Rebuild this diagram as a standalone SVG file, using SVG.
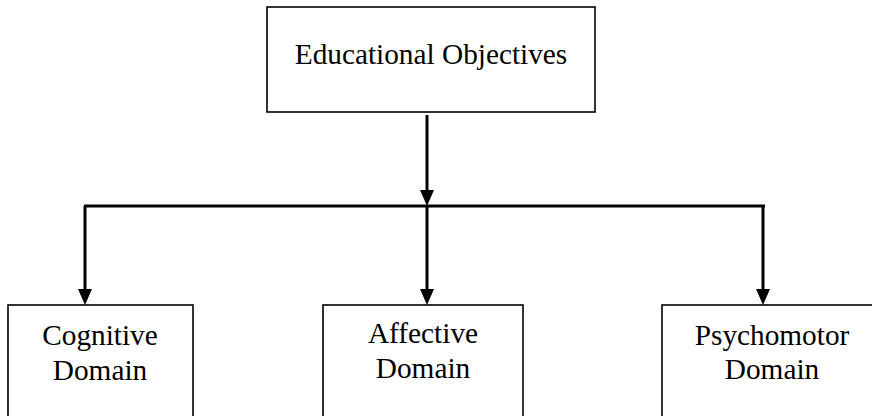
<svg xmlns="http://www.w3.org/2000/svg" width="872" height="416" viewBox="0 0 872 416">
<defs>
<style>
.box{fill:#fff;stroke:#000;stroke-width:1.6}
.lbl{font-family:"Liberation Serif","Times New Roman",serif;font-size:29.3px;fill:#000;text-anchor:middle}
.con{stroke:#000;stroke-width:3;fill:none}
</style>
</defs>
<rect width="872" height="416" fill="#fff"/>
<g id="connectors">
<line class="con" x1="427" y1="115" x2="427" y2="190"/>
<path d="M420,190 L434,190 L427,206 Z" fill="#000"/>
<line class="con" x1="84" y1="206" x2="765" y2="206"/>
<line class="con" x1="85" y1="206" x2="85" y2="290"/>
<path d="M78,289 L92,289 L85,305 Z" fill="#000"/>
<line class="con" x1="427" y1="206" x2="427" y2="290"/>
<path d="M420,289 L434,289 L427,305 Z" fill="#000"/>
<line class="con" x1="763" y1="206" x2="763" y2="290"/>
<path d="M756,289 L770,289 L763,305 Z" fill="#000"/>
</g>
<g id="educational-objectives">
<rect class="box" x="267" y="7" width="328" height="105"/>
<text class="lbl" x="431" y="64">Educational Objectives</text>
</g>
<g id="cognitive-domain">
<rect class="box" x="8" y="305" width="185" height="130"/>
<text class="lbl" x="100" y="345">Cognitive</text>
<text class="lbl" x="100" y="380">Domain</text>
</g>
<g id="affective-domain">
<rect class="box" x="323" y="305" width="200" height="130"/>
<text class="lbl" x="423" y="343">Affective</text>
<text class="lbl" x="423" y="378">Domain</text>
</g>
<g id="psychomotor-domain">
<rect class="box" x="662" y="305" width="230" height="130"/>
<text class="lbl" x="772" y="345">Psychomotor</text>
<text class="lbl" x="772" y="379">Domain</text>
</g>
</svg>
